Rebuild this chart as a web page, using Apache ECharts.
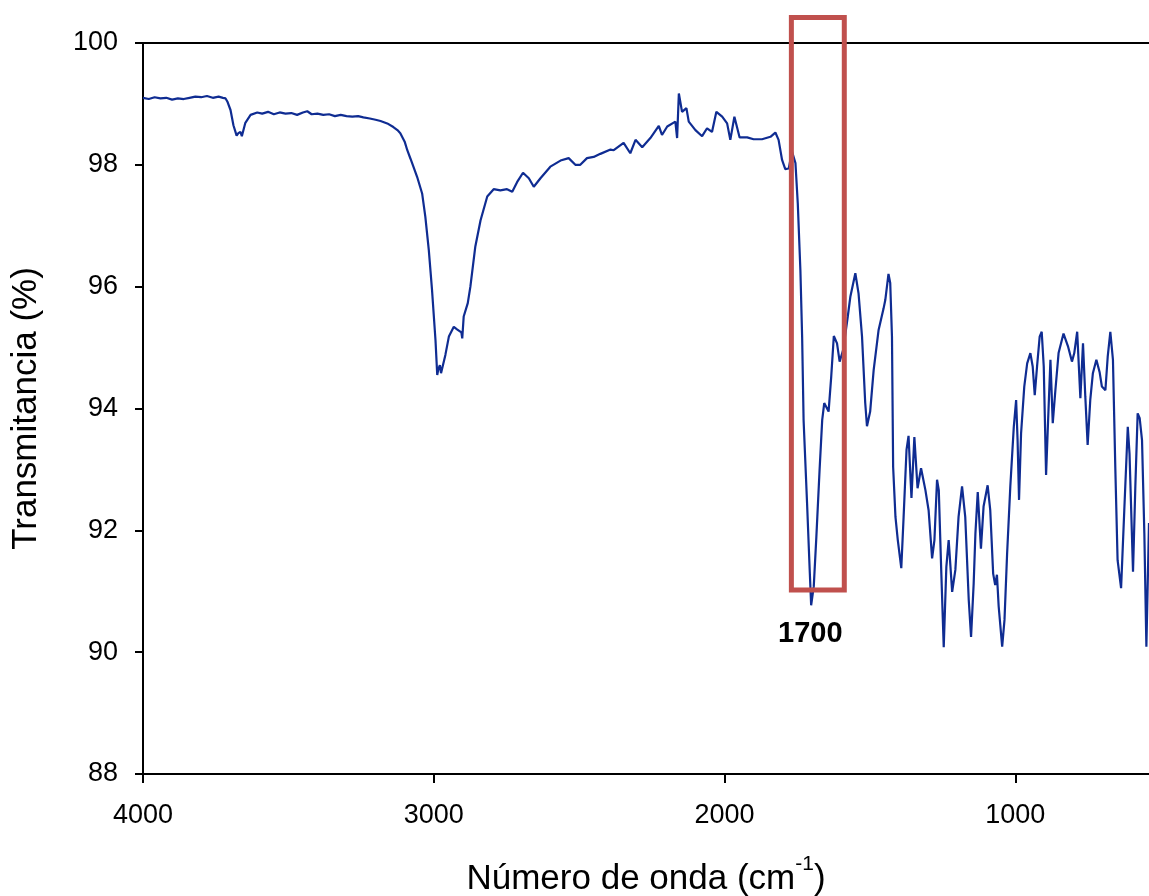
<!DOCTYPE html>
<html>
<head>
<meta charset="utf-8">
<script src="https://cdn.jsdelivr.net/npm/echarts@6/dist/echarts.min.js"></script>
<style>
html,body{margin:0;padding:0;background:#fff;}
#chart{width:1149px;height:896px;}
</style>
</head>
<body>
<div id="chart"></div>
<script>
// ---- data ----
const wavenumber = [
4000,3980,3960,3940,3920,3900,3880,3860,3840,3820,3800,3780,3760,3740,3725,3716,3710,3699,3689,3678,3672,3665,3660,3648,3630,3607,3590,3570,3550,3530,3510,3490,3470,3450,3435,3420,3400,3380,3360,3340,3320,3300,3280,3260,3242,3220,3200,3183,3160,3139,3125,3115,3100,3091,3080,3070,3057,3040,3029,3017,3006,2994,2988,2984,2979,2975,2971,2960,2948,2931,2920,2914,2905,2902,2897,2883,2874,2857,2839,2816,2794,2771,2748,2730,2713,2693,2673,2656,2633,2599,2564,2536,2513,2496,2473,2450,2427,2392,2381,2347,2324,2306,2283,2255,2226,2215,2197,2169,2163,2157,2146,2131,2123,2100,2077,2060,2043,2028,2008,1991,1980,1966,1948,1922,1900,1871,1842,1825,1814,1802,1791,1779,1768,1756,1748,1739,1733,1728,1716,1707,1702,1693,1684,1673,1664,1657,1642,1633,1624,1613,1604,1592,1576,1567,1550,1539,1527,1516,1510,1499,1487,1470,1453,1447,1436,1430,1424,1420,1412,1404,1398,1392,1384,1374,1367,1357,1347,1336,1324,1309,1298,1286,1278,1269,1263,1255,1246,1237,1229,1217,1206,1195,1183,1172,1160,1152,1143,1137,1129,1118,1109,1095,1086,1076,1069,1063,1057,1045,1037,1028,1017,1005,997,992,987,980,969,959,948,940,933,925,916,909,902,894,887,879,871,862,851,834,818,805,797,787,776,767,759,751,742,733,721,710,702,690,682,673,664,656,648,636,625,613,607,595,587,579,572,564,556,549,540
];
const transmittance = [
99.10,99.08,99.11,99.09,99.10,99.07,99.09,99.08,99.10,99.12,99.11,99.13,99.10,99.12,99.10,99.09,99.04,98.90,98.65,98.48,98.52,98.54,98.47,98.69,98.82,98.86,98.84,98.87,98.83,98.86,98.84,98.85,98.82,98.86,98.88,98.83,98.84,98.82,98.83,98.80,98.82,98.80,98.79,98.80,98.78,98.76,98.74,98.72,98.68,98.62,98.57,98.52,98.38,98.24,98.10,97.97,97.80,97.53,97.15,96.60,95.95,95.12,94.55,94.65,94.71,94.58,94.60,94.88,95.18,95.34,95.30,95.32,95.25,95.15,95.51,95.73,96.00,96.66,97.09,97.48,97.60,97.58,97.60,97.56,97.72,97.87,97.78,97.64,97.78,97.97,98.07,98.11,98.00,98.00,98.11,98.13,98.18,98.25,98.24,98.36,98.19,98.41,98.29,98.44,98.64,98.49,98.63,98.71,98.44,99.17,98.87,98.93,98.71,98.57,98.47,98.60,98.54,98.87,98.79,98.68,98.41,98.79,98.45,98.45,98.42,98.42,98.46,98.53,98.41,98.08,97.93,97.94,98.22,98.03,97.37,96.27,95.18,93.81,92.44,91.35,90.77,91.08,91.90,92.99,93.81,94.09,93.95,94.52,95.19,95.07,94.77,94.96,95.51,95.84,96.22,95.89,95.18,94.09,93.71,93.95,94.63,95.29,95.64,95.78,96.21,96.06,95.18,93.04,92.22,91.84,91.87,91.38,92.22,93.32,93.55,92.53,93.53,92.69,93.02,92.66,92.33,91.54,91.84,92.83,92.66,91.40,90.08,91.40,91.84,90.99,91.35,92.22,92.72,92.22,90.86,90.25,91.13,91.95,92.63,91.70,92.39,92.74,92.33,91.29,91.10,91.27,90.75,90.09,90.53,91.62,92.72,93.70,94.14,93.48,92.50,93.59,94.36,94.74,94.91,94.69,94.22,94.69,95.18,95.26,94.69,92.91,93.81,94.80,93.76,94.30,94.91,95.23,95.01,94.77,94.91,95.26,94.17,95.07,94.19,93.40,94.14,94.58,94.80,94.60,94.36,94.30,94.85,95.26,94.80,93.05,91.51,91.05,92.33,93.70,93.26,91.32,92.72,93.92,93.84,93.48,91.95,90.09,92.12
];
const xTickValues = [4000, 3000, 2000, 1000];
const yTickLabels = [88, 90, 92, 94, 96, 98, 100];
const highlightBandX = [1770, 1588];
const highlightBandY = [100.42, 91.02];
const peakLabel = '1700';
const peakLabelPos = [1705, 90.30];

// ---- chart ----
const FONT = '"Liberation Sans", Arial, sans-serif';
const chart = echarts.init(document.getElementById('chart'), null, {renderer: 'canvas'});
const seriesData = wavenumber.map((w, i) => [w, transmittance[i]]);

const axisLineStyle = {color: '#000', width: 2};
chart.setOption({
  animation: false,
  backgroundColor: '#fff',
  grid: {left: 143, right: 0, top: 43, bottom: 122, containLabel: false, outerBoundsMode: 'none'},
  xAxis: [{
    type: 'value', inverse: true, min: 540, max: 4000,
    name: 'Número de onda (cm{sup|-1})',
    nameLocation: 'middle', nameGap: 80,
    nameTextStyle: {
      fontFamily: FONT, fontSize: 35, color: '#000', lineHeight: 50,
      rich: {sup: {fontFamily: FONT, fontSize: 21, color: '#000', verticalAlign: 'top', lineHeight: 22}}
    },
    axisLine: {show: true, onZero: false, lineStyle: axisLineStyle},
    axisTick: {show: true, inside: false, length: 9, lineStyle: axisLineStyle, customValues: xTickValues},
    axisLabel: {show: true, margin: 28, fontFamily: FONT, fontSize: 27, color: '#000', customValues: xTickValues,
      formatter: v => String(v)},
    splitLine: {show: false}
  }, {
    type: 'value', inverse: true, min: 540, max: 4000, position: 'top',
    axisLine: {show: true, onZero: false, lineStyle: axisLineStyle},
    axisTick: {show: false}, axisLabel: {show: false}, splitLine: {show: false}
  }],
  yAxis: {
    type: 'value', min: yTickLabels[0], max: yTickLabels[yTickLabels.length - 1], interval: 2,
    name: 'Transmitancia (%)', nameLocation: 'middle', nameGap: 99, nameRotate: 90,
    nameTextStyle: {fontFamily: FONT, fontSize: 35, color: '#000'},
    axisLine: {show: true, onZero: false, lineStyle: axisLineStyle},
    axisTick: {show: true, inside: false, length: 8, lineStyle: axisLineStyle},
    axisLabel: {margin: 25, fontFamily: FONT, fontSize: 27, color: '#000', formatter: v => String(v)},
    splitLine: {show: false}
  },
  series: [{
    type: 'line', xAxisIndex: 0, yAxisIndex: 0,
    data: seriesData, showSymbol: false, symbol: 'none',
    lineStyle: {color: '#0f2c92', width: 2.2},
    clip: true, z: 3
  }]
});

function drawAnnotations() {
  const a = chart.convertToPixel({seriesIndex: 0}, [highlightBandX[0], highlightBandY[0]]);
  const b = chart.convertToPixel({seriesIndex: 0}, [highlightBandX[1], highlightBandY[1]]);
  const t = chart.convertToPixel({seriesIndex: 0}, peakLabelPos);
  chart.setOption({
    graphic: [{
      type: 'rect', z: 100,
      shape: {x: Math.min(a[0], b[0]), y: Math.min(a[1], b[1]), width: Math.abs(b[0] - a[0]), height: Math.abs(b[1] - a[1])},
      style: {fill: 'none', stroke: '#c0504d', lineWidth: 5}
    }, {
      type: 'text', z: 100, x: t[0], y: t[1],
      style: {text: peakLabel, fill: '#000', fontFamily: FONT, fontSize: 29, fontWeight: 'bold', align: 'center', verticalAlign: 'middle'}
    }]
  });
}
drawAnnotations();
</script>
</body>
</html>
